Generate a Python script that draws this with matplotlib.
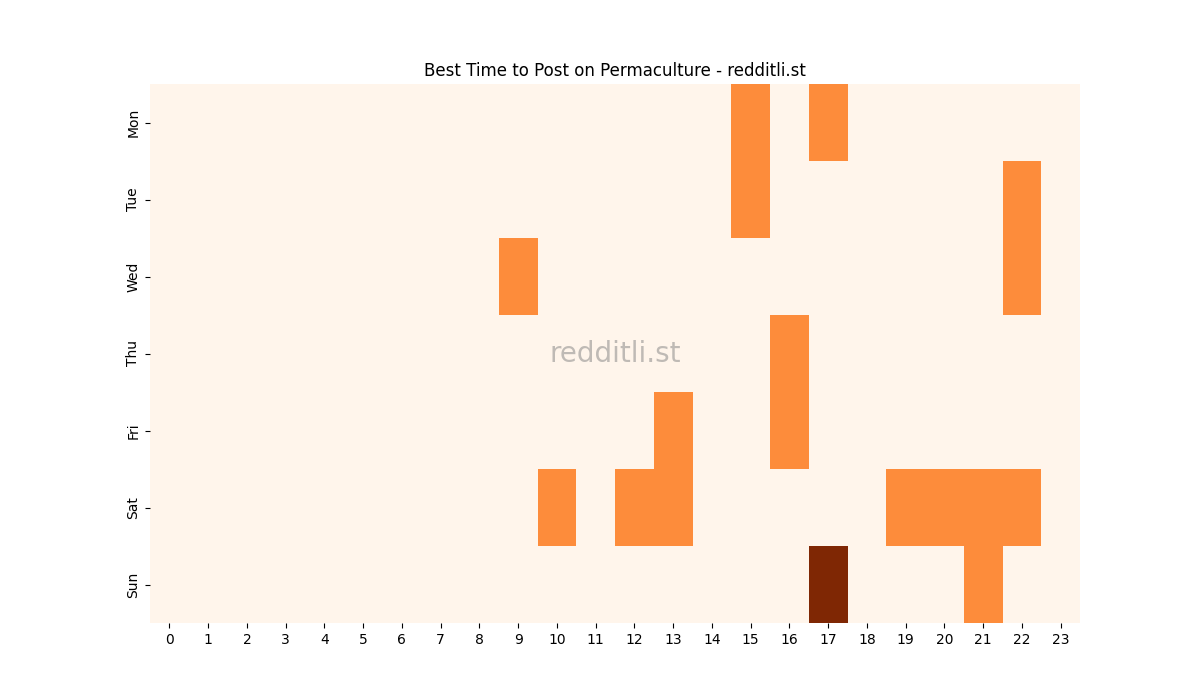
import numpy as np
import pandas as pd
import seaborn as sns
import matplotlib
matplotlib.use("Agg")
from matplotlib import pyplot as plt

# Dias y horas
days = ['Mon', 'Tue', 'Wed', 'Thu', 'Fri', 'Sat', 'Sun']
hours = list(range(24))

# Horas destacadas por dia (valor 1), y la mejor hora (valor 2)
mon = {15: 1, 17: 1}
tue = {15: 1, 22: 1}
wed = {9: 1, 22: 1}
thu = {16: 1}
fri = {13: 1, 16: 1}
sat = {10: 1, 12: 1, 13: 1, 19: 1, 20: 1, 21: 1, 22: 1}
sun = {17: 2, 21: 1}

rows = [mon, tue, wed, thu, fri, sat, sun]
grid = pd.DataFrame([[r.get(h, 0) for h in hours] for r in rows],
                    index=days, columns=hours)

fig = plt.figure(figsize=(12, 7), dpi=100)
ax = fig.add_subplot(111)

sns.heatmap(grid, cmap='Oranges', cbar=False, ax=ax, vmin=0, vmax=2)

ax.set_title('Best Time to Post on Permaculture - redditli.st')
ax.set_yticklabels(days, rotation=90, va='center')
ax.set_xticklabels(hours, rotation=0)

ax.text(0.5, 0.5, 'redditli.st', transform=ax.transAxes,
        fontsize=20, color='grey', alpha=0.5, ha='center', va='center')

plt.savefig('out.png')
